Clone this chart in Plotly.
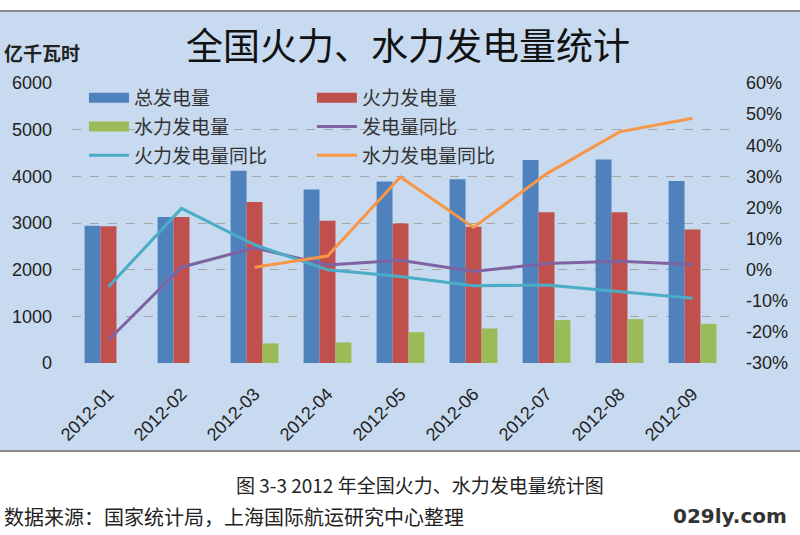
import plotly.graph_objects as go

months = ["2012-01", "2012-02", "2012-03", "2012-04", "2012-05",
          "2012-06", "2012-07", "2012-08", "2012-09"]
total_gen = [2940, 3130, 4120, 3720, 3890, 3940, 4350, 4360, 3900]
thermal_gen = [2930, 3130, 3450, 3050, 2990, 2920, 3230, 3230, 2860]
hydro_gen = [None, None, 420, 440, 660, 740, 920, 940, 840]
total_yoy = [-22.6, 0.8, 7.0, 1.5, 3.0, -0.6, 2.0, 2.7, 1.7]
thermal_yoy = [-5.5, 19.7, 8.0, 0.0, -2.2, -5.2, -4.9, -7.1, -9.2]
hydro_yoy = [None, None, 0.8, 4.4, 29.8, 13.6, 30.8, 44.3, 48.7]

left_ticks = [0, 1000, 2000, 3000, 4000, 5000, 6000]
right_ticks = [-30, -20, -10, 0, 10, 20, 30, 40, 50, 60]
right_labels = ["-30%", "-20%", "-10%", "0%", "10%", "20%", "30%", "40%",
                "50%", "60%"]

C_BLUE = "#4f81bd"
C_RED = "#c0504d"
C_GREEN = "#9bbb59"
C_PURPLE = "#7e62a1"
C_CYAN = "#4bacc6"
C_ORANGE = "#f79646"

CJK = "Noto Sans CJK SC"
LAT = "Liberation Sans, Arial, sans-serif"

fig = go.Figure()

for name, vals, col in [("总发电量", total_gen, C_BLUE),
                        ("火力发电量", thermal_gen, C_RED),
                        ("水力发电量", hydro_gen, C_GREEN)]:
    fig.add_trace(go.Bar(x=months, y=vals, name=name, marker_color=col,
                         marker_line_width=0, showlegend=False, yaxis="y"))

for name, vals, col in [("发电量同比", total_yoy, C_PURPLE),
                        ("火力发电量同比", thermal_yoy, C_CYAN),
                        ("水力发电量同比", hydro_yoy, C_ORANGE)]:
    fig.add_trace(go.Scatter(x=months, y=vals, name=name, mode="lines",
                             line=dict(color=col, width=3), showlegend=False,
                             yaxis="y2"))

# legend entries (two columns)
legend_items = [
    ("总发电量", C_BLUE, 10, "legend"),
    ("水力发电量", C_GREEN, 10, "legend"),
    ("火力发电量同比", C_CYAN, 3, "legend"),
    ("火力发电量", C_RED, 10, "legend2"),
    ("发电量同比", C_PURPLE, 3, "legend2"),
    ("水力发电量同比", C_ORANGE, 3, "legend2"),
]
for i, (name, col, w, lg) in enumerate(legend_items):
    fig.add_trace(go.Scatter(x=[None], y=[None], name=name, mode="lines",
                             line=dict(color=col, width=w), legend=lg,
                             legendgroup="g%d" % i, showlegend=True,
                             yaxis="y"))

ph = 535 - 83 - 172
pw = 800 - 72 - 68


def py(pix):
    return (535 - 172 - pix) / ph


def px(pix):
    return (pix - 72) / pw


leg_common = dict(bgcolor="rgba(0,0,0,0)", borderwidth=0,
                  font=dict(family=CJK, size=19, color="#333333"),
                  tracegroupgap=1, itemwidth=40, yanchor="top",
                  xanchor="left", orientation="v")

fig.update_layout(
    width=800, height=535,
    margin=dict(l=72, r=68, t=83, b=172),
    paper_bgcolor="white",
    plot_bgcolor="white",
    barmode="group",
    bargap=0.345,
    bargroupgap=0,
    legend=dict(x=px(84), y=py(79), **leg_common),
    legend2=dict(x=px(313), y=py(79), **leg_common),
    xaxis=dict(type="category", tickangle=-45, showgrid=False,
               tickfont=dict(family=LAT, size=18, color="#222222"),
               showline=False, zeroline=False, ticks="",
               ticklabelstandoff=16),
    yaxis=dict(range=[0, 6000], tickvals=left_ticks, showgrid=True,
               gridcolor="#a6a6a6", griddash="dash", gridwidth=1,
               zeroline=False, ticks="", ticklabelstandoff=19,
               tickfont=dict(family=LAT, size=18, color="#222222")),
    yaxis2=dict(range=[-30, 60], tickvals=right_ticks, ticktext=right_labels,
                overlaying="y", side="right", showgrid=False, zeroline=False,
                ticks="", ticklabelstandoff=16,
                tickfont=dict(family=LAT, size=18, color="#222222")),
)

fig.add_shape(type="rect", xref="paper", yref="paper", layer="below",
              x0=px(-5), x1=px(805), y0=py(451), y1=py(11),
              fillcolor="#c8daef", line_width=0)
fig.add_shape(type="line", xref="paper", yref="paper",
              x0=px(-5), x1=px(805), y0=py(11), y1=py(11),
              line=dict(color="#8c8c8c", width=2))
fig.add_shape(type="line", xref="paper", yref="paper",
              x0=px(-5), x1=px(805), y0=py(451), y1=py(451),
              line=dict(color="#8c8c8c", width=2))

fig.add_annotation(text="全国火力、水力发电量统计", xref="paper", yref="paper",
                   x=px(410), y=py(44), xanchor="center", yanchor="middle",
                   showarrow=False,
                   font=dict(family=CJK, size=37, color="#111111"))
fig.add_annotation(text="<b>亿千瓦时</b>", xref="paper", yref="paper",
                   x=px(2), y=py(53), xanchor="left", yanchor="middle",
                   showarrow=False,
                   font=dict(family=CJK, size=19, color="#222222"))
fig.add_annotation(text="图 3-3 2012 年全国火力、水力发电量统计图", xref="paper",
                   yref="paper", x=px(422), y=py(484), xanchor="center",
                   yanchor="middle", showarrow=False,
                   font=dict(family=CJK, size=19, color="#222222"))
fig.add_annotation(text="数据来源：国家统计局，上海国际航运研究中心整理",
                   xref="paper", yref="paper", x=px(2), y=py(516),
                   xanchor="left", yanchor="middle", showarrow=False,
                   font=dict(family=CJK, size=20, color="#222222"))
fig.add_annotation(text="<b>029ly.com</b>", xref="paper", yref="paper",
                   x=px(792), y=py(516), xanchor="right", yanchor="middle",
                   showarrow=False,
                   font=dict(family="DejaVu Sans", size=20, color="#333333"))

fig.write_html("out.html")
